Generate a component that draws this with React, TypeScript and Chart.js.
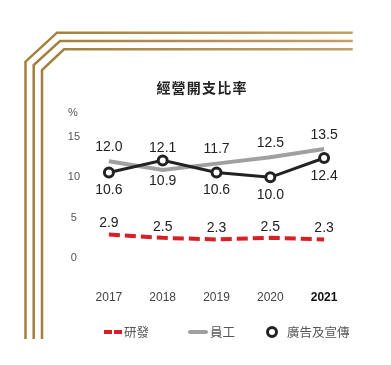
import { useEffect, useRef } from 'react';
import { Chart, registerables } from 'chart.js';

Chart.register(...registerables);

const years = ['2017', '2018', '2019', '2020', '2021'];
const rdValues = [2.9, 2.5, 2.3, 2.5, 2.3];
const staffValues = [12.0, 10.9, 11.7, 12.5, 13.5];
const adValues = [10.6, 12.1, 10.6, 10.0, 12.4];
const yTickValues = [0, 5, 10, 15];
const seriesNames = ['研發', '員工', '廣告及宣傳'];
const rdLabelPos = ['above', 'above', 'above', 'above', 'above'];
const staffLabelPos = ['above', 'below', 'above', 'above', 'above'];
const adLabelPos = ['below', 'above', 'below', 'below', 'below'];
const titleText = '經營開支比率';
const unitText = '%';

const LATIN = '"Liberation Sans", Arial, sans-serif';
const CJK = '"Noto Sans CJK TC", "Noto Sans", sans-serif';

const RED = '#d71f27';
const GRAY = '#a0a0a0';
const BLACK = '#222222';

const labelOffsets: Record<string, { above: number; below: number }> = {
  rd: { above: -11, below: 12 },
  staff: { above: -14, below: 11 },
  ad: { above: -12, below: 18 },
};

const framePlugin = {
  id: 'frame',
  beforeDraw(chart: any) {
    const ctx = chart.ctx;
    ctx.save();
    const grad = ctx.createLinearGradient(0, 0, 391, 0);
    grad.addColorStop(0, '#9f7b39');
    grad.addColorStop(1, '#c8a36b');
    ctx.strokeStyle = grad;
    ctx.lineWidth = 2.5;
    const frames = [
      { x: 25.5, y: 32.7, dx: 31.5, dy: 29 },
      { x: 33.7, y: 41, dx: 26.3, dy: 24 },
      { x: 42, y: 49.3, dx: 22, dy: 20.7 },
    ];
    for (const f of frames) {
      ctx.beginPath();
      ctx.moveTo(f.x, 339);
      ctx.lineTo(f.x, f.y + f.dy);
      ctx.lineTo(f.x + f.dx, f.y);
      ctx.lineTo(352.7, f.y);
      ctx.stroke();
    }
    // title
    ctx.fillStyle = BLACK;
    ctx.font = `bold 14px ${CJK}`;
    try { (ctx as any).letterSpacing = '1.2px'; } catch (e) {}
    ctx.textAlign = 'center';
    ctx.textBaseline = 'middle';
    ctx.fillText(titleText, 202, 88);
    try { (ctx as any).letterSpacing = '0px'; } catch (e) {}
    // unit
    ctx.fillStyle = '#555555';
    ctx.font = `11px ${LATIN}`;
    ctx.fillText(unitText, 73, 113);
    ctx.restore();
  },
};

const valueLabelPlugin = {
  id: 'valueLabels',
  afterDatasetsDraw(chart: any) {
    const ctx = chart.ctx;
    ctx.save();
    ctx.font = `14px ${LATIN}`;
    ctx.fillStyle = BLACK;
    ctx.textAlign = 'center';
    ctx.textBaseline = 'middle';
    chart.data.datasets.forEach((ds: any, i: number) => {
      const meta = chart.getDatasetMeta(i);
      const offs = labelOffsets[ds.key];
      meta.data.forEach((pt: any, j: number) => {
        const pos = ds.labelPos[j];
        const off = pos === 'above' ? offs.above : offs.below;
        ctx.fillText((ds.data[j] as number).toFixed(1), pt.x, pt.y + off);
      });
    });
    ctx.restore();
  },
};

const legendPlugin = {
  id: 'customLegend',
  afterDraw(chart: any) {
    const ctx = chart.ctx;
    const y = 332;
    ctx.save();
    // red dashed
    ctx.strokeStyle = RED;
    ctx.lineWidth = 4;
    ctx.setLineDash([8, 2]);
    ctx.beginPath();
    ctx.moveTo(104, y);
    ctx.lineTo(122, y);
    ctx.stroke();
    ctx.setLineDash([]);
    // gray line
    ctx.strokeStyle = GRAY;
    ctx.lineCap = 'round';
    ctx.beginPath();
    ctx.moveTo(190, y);
    ctx.lineTo(206, y);
    ctx.stroke();
    ctx.lineCap = 'butt';
    // circle
    ctx.beginPath();
    ctx.arc(272, y, 4.5, 0, Math.PI * 2);
    ctx.fillStyle = '#ffffff';
    ctx.fill();
    ctx.lineWidth = 3;
    ctx.strokeStyle = BLACK;
    ctx.stroke();
    // texts
    ctx.fillStyle = '#555555';
    ctx.font = `12.5px ${CJK}`;
    ctx.textAlign = 'left';
    ctx.textBaseline = 'middle';
    ctx.fillText(seriesNames[0], 124, y);
    ctx.fillText(seriesNames[1], 210, y);
    ctx.fillText(seriesNames[2], 287, y);
    ctx.restore();
  },
};

export default function App() {
  const ref = useRef<HTMLCanvasElement | null>(null);

  useEffect(() => {
    if (!ref.current) return;
    const chart = new Chart(ref.current, {
      type: 'line',
      data: {
        labels: years,
        datasets: [
          {
            key: 'rd',
            labelPos: rdLabelPos,
            label: seriesNames[0],
            data: rdValues,
            borderColor: RED,
            borderWidth: 4,
            borderDash: [11, 5],
            pointRadius: 0,
            fill: false,
            order: 3,
            clip: false,
          } as any,
          {
            key: 'staff',
            labelPos: staffLabelPos,
            label: seriesNames[1],
            data: staffValues,
            borderColor: GRAY,
            borderWidth: 4,
            pointRadius: 0,
            fill: false,
            order: 2,
            clip: false,
          } as any,
          {
            key: 'ad',
            labelPos: adLabelPos,
            label: seriesNames[2],
            data: adValues,
            borderColor: BLACK,
            borderWidth: 3,
            pointRadius: 4.5,
            pointBorderWidth: 3,
            pointBackgroundColor: '#ffffff',
            pointBorderColor: BLACK,
            fill: false,
            order: 1,
            clip: false,
          } as any,
        ],
      },
      options: {
        responsive: false,
        animation: false,
        devicePixelRatio: 1,
        layout: { padding: { left: 42, right: 40, top: 137, bottom: 47 } },
        plugins: {
          legend: { display: false },
          title: { display: false },
          tooltip: { enabled: false },
        },
        scales: {
          x: {
            offset: true,
            grid: { display: false, drawTicks: false },
            border: { display: false },
            afterFit: (axis: any) => { axis.height = 60; },
            ticks: {
              padding: 32,
              color: (c: any) => (c.index === 4 ? '#111111' : '#444444'),
              font: (c: any) => ({
                family: LATIN,
                size: 12,
                weight: c.index === 4 ? 'bold' : 'normal',
              }),
            },
          },
          y: {
            min: 0,
            max: 15,
            grid: { display: false, drawTicks: false },
            border: { display: false },
            afterFit: (axis: any) => { axis.width = 40; },
            afterBuildTicks: (axis: any) => {
              axis.ticks = yTickValues.map((v) => ({ value: v }));
            },
            ticks: {
              padding: 2,
              crossAlign: 'center',
              color: '#555555',
              font: { family: LATIN, size: 11 },
            },
          },
        },
      } as any,
      plugins: [framePlugin, valueLabelPlugin, legendPlugin],
    });
    return () => chart.destroy();
  }, []);

  return (
    <div style={{ position: 'absolute', left: 0, top: 0, width: 391, height: 365, background: '#ffffff' }}>
      <canvas ref={ref} width={391} height={365} style={{ display: 'block', width: 391, height: 365 }} />
    </div>
  );
}
